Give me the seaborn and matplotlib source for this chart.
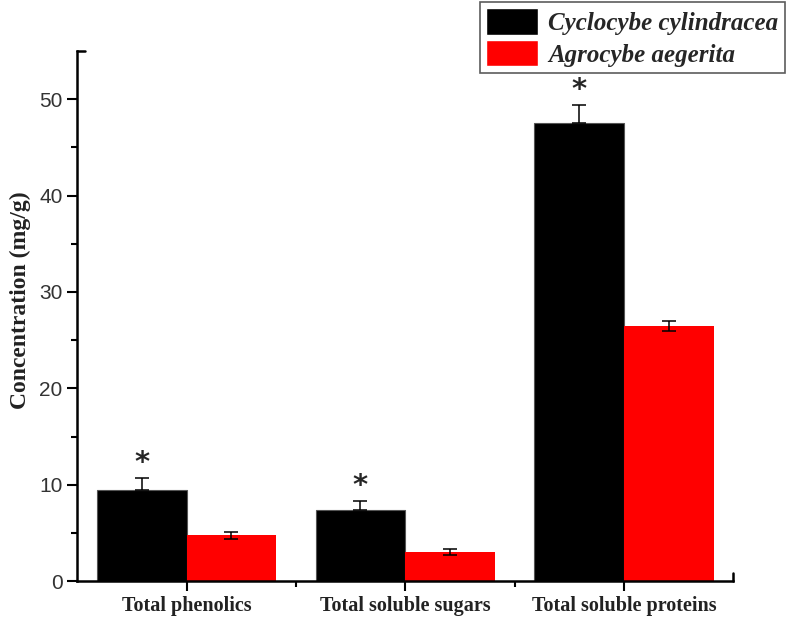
import numpy as np
import pandas as pd
import matplotlib
matplotlib.use("Agg")
import matplotlib.pyplot as plt
import seaborn as sns

# values
categories = ["Total phenolics", "Total soluble sugars", "Total soluble proteins"]
species = ["Cyclocybe cylindracea", "Agrocybe aegerita"]
cyclocybe_mean = [9.45, 7.4, 47.5]
cyclocybe_err = [1.25, 0.9, 1.9]
agrocybe_mean = [4.75, 3.0, 26.5]
agrocybe_err = [0.35, 0.3, 0.5]
significant = ["*", "*", "*"]

data = pd.DataFrame({
    "category": categories * 2,
    "species": [species[0]] * 3 + [species[1]] * 3,
    "value": cyclocybe_mean + agrocybe_mean,
})

sns.set_style("ticks")
fig = plt.figure(figsize=(7.87, 6.21), dpi=100)
ax = fig.add_axes([0.098, 0.064, 0.834, 0.854])

sns.barplot(data=data, x="category", y="value", hue="species",
            palette=["black", "#ff0000"], width=0.82, errorbar=None,
            saturation=1, ax=ax, legend=True)

# edge styling and error bars
patches = [p for p in ax.patches if p.get_height() > 0]
black_bars = patches[:3]
red_bars = patches[3:6]
for p in black_bars:
    p.set_edgecolor("#555555")
    p.set_linewidth(0.8)
for p in red_bars:
    p.set_edgecolor("none")

bx = [p.get_x() + p.get_width() / 2 for p in black_bars]
rx = [p.get_x() + p.get_width() / 2 for p in red_bars]
ax.errorbar(bx, cyclocybe_mean, yerr=[np.zeros(3), cyclocybe_err], fmt="none",
            ecolor="black", elinewidth=1.1, capsize=5, capthick=1.1, zorder=3)
ax.errorbar(rx, agrocybe_mean, yerr=agrocybe_err, fmt="none",
            ecolor="black", elinewidth=1.1, capsize=5, capthick=1.1, zorder=3)

for x, m, e, s in zip(bx, cyclocybe_mean, cyclocybe_err, significant):
    ax.annotate(s, (x, m + e), xytext=(0, 1), textcoords="offset points",
                ha="center", va="bottom", fontsize=21, fontweight="bold",
                family="DejaVu Sans", zorder=5)

ax.set_ylim(0, 55)
ax.set_xlim(-0.5, 2.5)
ax.set_yticks(range(0, 51, 10))
ax.set_yticks(range(5, 55, 10), minor=True)
ax.set_xticks([0.5, 1.5], minor=True)
ax.tick_params(axis="both", which="major", direction="out", length=7, width=1.5, color="black")
ax.tick_params(axis="both", which="minor", direction="out", length=4, width=1.5, color="black")
ax.tick_params(axis="y", labelsize=15)
for lab in ax.get_yticklabels():
    lab.set_family("Liberation Sans")
    lab.set_color("#333333")
for lab in ax.get_xticklabels():
    lab.set_family("Liberation Serif")
    lab.set_fontweight("bold")
    lab.set_fontsize(14.5)
    lab.set_color("#222222")

ax.set_xlabel("")
ax.set_ylabel("Concentration (mg/g)", family="Liberation Serif", fontweight="bold",
              fontsize=17, color="#222222")
ax.yaxis.set_label_coords(-0.071, 0.53)

for side in ["top", "right"]:
    ax.spines[side].set_visible(False)
for side in ["left", "bottom"]:
    ax.spines[side].set_linewidth(1.8)
    ax.spines[side].set_color("black")

# small corner stubs of the hidden frame
ax.plot([0, 0.012], [1, 1], transform=ax.transAxes, color="black", lw=1.8, clip_on=False)
ax.plot([1, 1], [0, 0.015], transform=ax.transAxes, color="black", lw=1.8, clip_on=False)

leg = ax.legend(loc="upper right", bbox_to_anchor=(1.078, 1.092), borderaxespad=0,
                frameon=True, fancybox=False, edgecolor="#333333",
                handlelength=2.1, handleheight=1.25, borderpad=0.25,
                labelspacing=0.2, handletextpad=0.4,
                prop={"family": "Liberation Serif", "style": "italic",
                      "weight": "bold", "size": 18})
leg.get_frame().set_linewidth(1.2)

fig.savefig("out.png", dpi=100)
